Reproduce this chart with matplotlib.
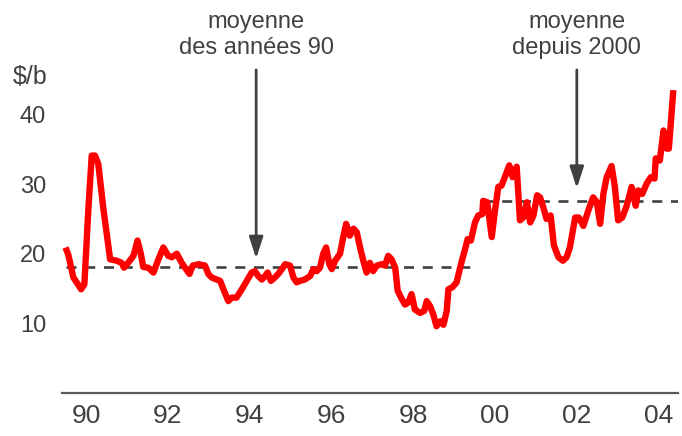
import matplotlib
matplotlib.use("Agg")
import matplotlib.pyplot as plt

plt.rcParams['font.family'] = ['Liberation Sans', 'DejaVu Sans']
plt.rcParams['lines.scale_dashes'] = False

# Monthly-ish oil price readings ($/b), date as fractional year
dates = [1990.00, 1990.07, 1990.19, 1990.27, 1990.38, 1990.46, 1990.56, 1990.64, 1990.72, 1990.80,
         1990.92, 1991.09, 1991.25, 1991.37, 1991.43, 1991.53, 1991.66, 1991.76, 1991.84, 1991.90,
         1992.02, 1992.15, 1992.27, 1992.39, 1992.51, 1992.60, 1992.72, 1992.84, 1992.92, 1993.03,
         1993.11, 1993.25, 1993.41, 1993.49, 1993.57, 1993.70, 1993.78, 1993.86, 1993.98, 1994.06,
         1994.18, 1994.31, 1994.43, 1994.55, 1994.63, 1994.71, 1994.80, 1994.88, 1994.94, 1995.02,
         1995.12, 1995.20, 1995.29, 1995.37, 1995.49, 1995.57, 1995.65, 1995.73, 1995.85, 1995.98,
         1996.06, 1996.14, 1996.22, 1996.30, 1996.37, 1996.45, 1996.51, 1996.59, 1996.71, 1996.79,
         1996.86, 1996.95, 1997.04, 1997.12, 1997.20, 1997.28, 1997.36, 1997.44, 1997.52, 1997.61,
         1997.73, 1997.81, 1997.89, 1997.97, 1998.06, 1998.12, 1998.22, 1998.30, 1998.38, 1998.46,
         1998.54, 1998.67, 1998.77, 1998.83, 1998.91, 1998.99, 1999.07, 1999.16, 1999.24, 1999.32,
         1999.36, 1999.46, 1999.56, 1999.69, 1999.77, 1999.83, 1999.91, 2000.01, 2000.09, 2000.19,
         2000.21, 2000.31, 2000.42, 2000.50, 2000.58, 2000.66, 2000.74, 2000.85, 2000.93, 2001.03,
         2001.11, 2001.19, 2001.28, 2001.36, 2001.44, 2001.53, 2001.60, 2001.68, 2001.76, 2001.86,
         2001.94, 2002.05, 2002.16, 2002.25, 2002.33, 2002.46, 2002.55, 2002.66, 2002.78, 2002.90,
         2002.99, 2003.07, 2003.15, 2003.23, 2003.35, 2003.43, 2003.51, 2003.61, 2003.72, 2003.84,
         2003.94, 2004.00, 2004.10, 2004.21, 2004.31, 2004.40, 2004.43, 2004.53, 2004.62, 2004.70,
         2004.75, 2004.86]
prices = [20.9, 19.8, 16.6, 15.9, 14.9, 15.6, 26.7, 34.1, 34.1, 32.9,
          26.7, 19.2, 19.0, 18.7, 18.0, 18.7, 19.7, 21.9, 20.0, 18.1,
          18.0, 17.3, 19.2, 20.9, 19.7, 19.5, 20.0, 18.7, 18.0, 17.1,
          18.3, 18.5, 18.3, 17.1, 16.6, 16.3, 16.1, 14.9, 13.2, 13.7,
          13.7, 14.9, 16.1, 17.3, 17.5, 16.8, 16.3, 16.8, 17.3, 16.1,
          16.6, 17.1, 17.8, 18.5, 18.3, 16.6, 15.9, 16.1, 16.3, 16.8,
          17.8, 17.5, 18.0, 20.0, 20.9, 18.5, 17.8, 19.0, 20.0, 22.4,
          24.3, 22.6, 23.6, 23.1, 20.9, 19.0, 17.3, 18.7, 17.5, 18.3,
          18.5, 18.3, 19.7, 19.2, 18.0, 14.7, 13.5, 12.7, 13.0, 14.2,
          12.0, 11.5, 11.8, 13.2, 12.5, 11.3, 9.6, 10.3, 9.8, 11.8,
          14.9, 15.2, 15.9, 19.0, 20.7, 22.1, 21.9, 24.5, 25.5, 25.7,
          27.6, 27.4, 22.4, 26.2, 29.6, 29.8, 31.0, 32.7, 31.0, 32.5,
          24.8, 25.2, 27.4, 24.5, 25.5, 28.4, 28.1, 26.7, 25.0, 25.5,
          21.2, 19.5, 19.0, 19.5, 20.9, 25.2, 25.2, 24.0, 26.2, 28.1,
          27.4, 24.3, 28.6, 31.0, 32.6, 29.6, 24.8, 25.2, 26.9, 29.6,
          26.9, 29.1, 28.6, 30.1, 31.0, 30.8, 33.7, 33.4, 37.7, 35.1,
          35.1, 43.5]

# Period averages (dashed lines)
avg_periods = [(1990.0, 2000.08), (2000.2, 2004.97)]
avg_values = [18.1, 27.6]
avg_labels = [("moyenne", "des années 90"), ("moyenne", "depuis 2000")]
arrow_dates = [1994.66, 2002.50]
arrow_tips = [19.3, 29.4]

year_ticks = [1990.5, 1992.5, 1994.5, 1996.5, 1998.5, 2000.5, 2002.5, 2004.5]
year_labels = ["90", "92", "94", "96", "98", "00", "02", "04"]
y_ticks = [10, 20, 30, 40]

TXT = '#404040'
W, H = 682, 436
fig = plt.figure(figsize=(W / 100, H / 100), dpi=100)
ax = fig.add_axes([62 / W, (H - 393) / H, 616 / W, (393 - 79.7) / H])
ax.set_xlim(1989.913, 2004.974)
ax.set_ylim(0, 45)


def val(ypix):
    return 20 + (253 - ypix) / 6.93


ax.plot(dates, prices, color='#ff0000', lw=4.6, solid_joinstyle='round',
        solid_capstyle='butt', zorder=3)

for (x0, x1), v in zip(avg_periods, avg_values):
    ax.plot([x0, x1], [v, v], color='#404040', lw=1.9, dashes=(7.2, 6.3),
            dash_capstyle='butt', zorder=2)

for xd, tip, (l1, l2) in zip(arrow_dates, arrow_tips, avg_labels):
    ax.annotate('', xy=(xd, tip), xytext=(xd, val(70)),
                arrowprops=dict(arrowstyle='-|>,head_length=1.3,head_width=0.42',
                                color='#404040', lw=2.0, shrinkA=0, shrinkB=0),
                zorder=4)
    ax.text(xd, val(22), l1, ha='center', va='center', fontsize=17, color=TXT,
            clip_on=False)
    ax.text(xd, val(48), l2, ha='center', va='center', fontsize=17, color=TXT,
            clip_on=False)

ax.text(1989.57, val(77), '$/b', ha='right', va='center', fontsize=18, color=TXT,
        clip_on=False)

ax.set_xticks(year_ticks)
ax.set_xticklabels(year_labels)
ax.set_yticks(y_ticks)
ax.tick_params(axis='x', length=0, pad=8, labelsize=19, labelcolor=TXT)
ax.tick_params(axis='y', length=0, pad=11.5, labelsize=17, labelcolor=TXT)
for s in ['top', 'right', 'left']:
    ax.spines[s].set_visible(False)
ax.spines['bottom'].set_color('#595959')
ax.spines['bottom'].set_linewidth(1.6)
ax.patch.set_alpha(0)

fig.savefig('out.png', dpi=100)
